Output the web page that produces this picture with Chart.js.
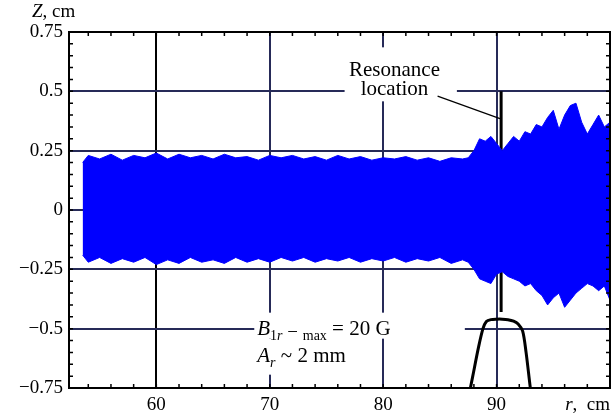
<!DOCTYPE html>
<html>
<head>
<meta charset="utf-8">
<script src="https://cdn.jsdelivr.net/npm/chart.js@4"></script>
<style>
  body { margin: 0; background: #fff; }
</style>
</head>
<body>
<canvas id="chart" width="611" height="420"></canvas>
<script>
// axis ticks
const rTicks = [60, 70, 80, 90];
const zTicks = [-0.75, -0.5, -0.25, 0, 0.25, 0.5, 0.75];

// envelope of the particle trajectory, Z (cm) vs r (cm)
const envR = [53.5, 54, 55, 56, 57, 58, 59, 60, 61, 62, 63, 64, 65, 66, 67, 68, 69, 70, 71, 72,
  73, 74, 75, 76, 77, 78, 79, 80, 81, 82, 83, 84, 85, 86, 87,
  87.5, 88, 88.5, 89, 89.5, 90, 90.5, 91, 91.5, 92, 92.5, 93, 93.5, 94, 94.5, 95, 95.5, 96,
  96.5, 97, 97.5, 98, 98.5, 99, 99.5, 100];
const envTop = [0.20, 0.23, 0.215, 0.235, 0.21, 0.23, 0.22, 0.24, 0.215, 0.235, 0.22, 0.23, 0.215,
  0.235, 0.22, 0.225, 0.21, 0.23, 0.22, 0.23, 0.215, 0.225, 0.21, 0.23, 0.215, 0.225, 0.21, 0.22,
  0.215, 0.225, 0.21, 0.22, 0.205, 0.22, 0.215,
  0.22, 0.25, 0.30, 0.29, 0.31, 0.28, 0.25, 0.28, 0.31, 0.29, 0.33, 0.32, 0.36, 0.35, 0.39, 0.42,
  0.34, 0.40, 0.44, 0.45, 0.37, 0.32, 0.36, 0.40, 0.35, 0.37];
const envBottom = [-0.19, -0.22, -0.2, -0.225, -0.205, -0.22, -0.2, -0.23, -0.21, -0.225, -0.2,
  -0.22, -0.21, -0.225, -0.2, -0.22, -0.205, -0.22, -0.2, -0.215, -0.2, -0.22, -0.205, -0.215,
  -0.2, -0.22, -0.205, -0.215, -0.2, -0.22, -0.205, -0.215, -0.2, -0.225, -0.21,
  -0.22, -0.25, -0.29, -0.30, -0.31, -0.27, -0.26, -0.28, -0.29, -0.30, -0.32, -0.31, -0.34,
  -0.36, -0.40, -0.37, -0.35, -0.41, -0.38, -0.35, -0.33, -0.31, -0.32, -0.34, -0.32, -0.38];

// B1r profile, drawn on the Z axis
const fieldR = [87.4, 87.9, 88.4, 88.8, 89.1, 89.5, 90.0, 90.5, 91.0, 91.5, 91.9, 92.3, 92.6, 92.9, 93.2];
const fieldZ = [-0.82, -0.70, -0.58, -0.50, -0.47, -0.462, -0.46, -0.46, -0.462, -0.468, -0.48,
  -0.51, -0.60, -0.72, -0.84];

// resonance location marker and the pointer to it
const resR = [90.4, 90.4];
const resZ = [0.5, -0.43];
const pointerR = [84.8, 90.3];
const pointerZ = [0.48, 0.385];

const fam = '"Liberation Serif", "DejaVu Serif", serif';
const pts = (xs, ys) => xs.map((x, i) => ({ x: x, y: ys[i] }));

function rich(ctx, x, y, parts) {
  let cx = x;
  for (const p of parts) {
    ctx.font = p.f;
    ctx.fillText(p.t, cx, y + (p.dy || 0));
    cx += ctx.measureText(p.t).width;
  }
  return cx;
}

const decor = {
  id: 'decor',
  beforeDatasetsDraw(chart) {
    const ctx = chart.ctx, X = v => chart.scales.x.getPixelForValue(v), Y = v => chart.scales.y.getPixelForValue(v);
    ctx.save();
    ctx.fillStyle = '#fff';
    ctx.fillRect(X(76.6), Y(0.5) - 44, X(86.5) - X(76.6), 54);
    ctx.fillRect(X(68.9) - 3, Y(-0.5) - 16, X(87.2) - X(68.9) + 3, 26);
    ctx.fillRect(X(68.9) - 3, Y(-0.5) + 10, X(77.3) - X(68.9) + 3, 36);
    ctx.restore();
  },
  afterDraw(chart) {
    const ctx = chart.ctx, a = chart.chartArea;
    const xs = chart.scales.x, ys = chart.scales.y;
    const X = v => xs.getPixelForValue(v), Y = v => ys.getPixelForValue(v);
    ctx.save();
    // frame top and right
    ctx.strokeStyle = '#000';
    ctx.lineWidth = 2;
    ctx.beginPath();
    ctx.moveTo(a.left, a.top); ctx.lineTo(a.right, a.top); ctx.lineTo(a.right, a.bottom);
    ctx.stroke();
    // minor ticks
    ctx.lineWidth = 1.5;
    ctx.beginPath();
    for (let r = 54; r <= 98; r += 2) {
      ctx.moveTo(X(r), a.bottom); ctx.lineTo(X(r), a.bottom - 4);
      ctx.moveTo(X(r), a.top); ctx.lineTo(X(r), a.top + 4);
    }
    for (let k = -15; k <= 15; k++) {
      const y = Y(k * 0.05);
      ctx.moveTo(a.left, y); ctx.lineTo(a.left + 4, y);
      ctx.moveTo(a.right, y); ctx.lineTo(a.right - 4, y);
    }
    ctx.stroke();

    ctx.fillStyle = '#000';
    ctx.textBaseline = 'alphabetic';
    // axis titles
    ctx.textAlign = 'left';
    rich(ctx, a.left - 37, a.top - 15, [
      { t: 'Z', f: 'italic 19px ' + fam }, { t: ', cm', f: '19px ' + fam }]);
    ctx.font = '19px ' + fam;
    const wCm = ctx.measureText(',  cm').width;
    ctx.font = 'italic 19px ' + fam;
    const wR = ctx.measureText('r').width;
    rich(ctx, a.right - wCm - wR, a.bottom + 22, [
      { t: 'r', f: 'italic 19px ' + fam }, { t: ',  cm', f: '19px ' + fam }]);

    // resonance note
    ctx.textAlign = 'center';
    ctx.font = '21px ' + fam;
    ctx.fillText('Resonance', X(81.0), Y(0.5) - 15);
    ctx.fillText('location', X(81.0), Y(0.5) + 4);

    // field note
    ctx.textAlign = 'left';
    const bx = X(68.9);
    rich(ctx, bx, Y(-0.5) + 6, [
      { t: 'B', f: 'italic 21px ' + fam },
      { t: '1', f: '14px ' + fam, dy: 5 },
      { t: 'r', f: 'italic 14px ' + fam, dy: 5 },
      { t: ' \u2212 ', f: '19px ' + fam, dy: 3 },
      { t: 'max', f: '14px ' + fam, dy: 5 },
      { t: ' = 20 G', f: '21px ' + fam }]);
    rich(ctx, bx, Y(-0.5) + 33, [
      { t: 'A', f: 'italic 21px ' + fam },
      { t: 'r', f: 'italic 14px ' + fam, dy: 5 },
      { t: ' ~ 2 mm', f: '21px ' + fam }]);
    ctx.restore();
  }
};

const gridColor = c => (c.tick && c.tick.value === 60) ? '#000' : '#262a58';

new Chart(document.getElementById('chart'), {
  type: 'line',
  data: {
    datasets: [
      {
        data: pts(envR, envTop),
        borderColor: '#0000ff', backgroundColor: '#0000ff',
        borderWidth: 1, pointRadius: 0, tension: 0, fill: '+1'
      },
      {
        data: pts(envR, envBottom),
        borderColor: '#0000ff', backgroundColor: '#0000ff',
        borderWidth: 1, pointRadius: 0, tension: 0, fill: false
      },
      {
        data: pts(fieldR, fieldZ),
        borderColor: '#000', borderWidth: 3, pointRadius: 0, tension: 0.3, fill: false
      },
      {
        data: pts(resR, resZ),
        borderColor: '#000', borderWidth: 3, pointRadius: 0, fill: false
      },
      {
        data: pts(pointerR, pointerZ),
        borderColor: '#000', borderWidth: 1.2, pointRadius: 0, fill: false
      }
    ]
  },
  options: {
    responsive: false,
    animation: false,
    devicePixelRatio: 1,
    layout: { padding: { top: 32, right: 1, left: 0, bottom: 0 } },
    plugins: { legend: { display: false }, tooltip: { enabled: false } },
    scales: {
      x: {
        type: 'linear', min: 52.3, max: 100,
        afterBuildTicks: s => { s.ticks = rTicks.map(v => ({ value: v })); },
        afterFit: s => { s.height = 32; },
        grid: { color: gridColor, lineWidth: 2, drawTicks: false },
        border: { color: '#000', width: 2 },
        ticks: { color: '#000', font: { family: fam, size: 19 }, padding: 6, maxRotation: 0, autoSkip: false }
      },
      y: {
        type: 'linear', min: -0.75, max: 0.75,
        afterBuildTicks: s => { s.ticks = zTicks.map(v => ({ value: v })); },
        afterFit: s => { s.width = 69; },
        grid: { color: '#262a58', lineWidth: 2, drawTicks: false },
        border: { color: '#000', width: 2 },
        ticks: {
          color: '#000', font: { family: fam, size: 19 }, padding: 6,
          callback: v => v < 0 ? '\u2212' + Math.abs(v) : String(v)
        }
      }
    }
  },
  plugins: [decor]
});
</script>
</body>
</html>
